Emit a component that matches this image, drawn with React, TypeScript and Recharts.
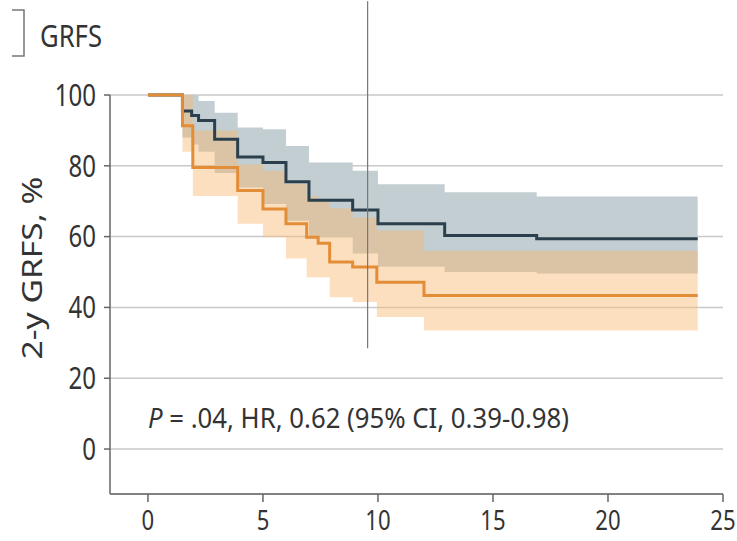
import React from 'react';
import {
  ComposedChart,
  Line,
  Area,
  XAxis,
  YAxis,
  CartesianGrid,
  ReferenceLine,
  Customized,
} from 'recharts';

// ---- Data (months, %) ----
const blueTimes = [0, 1.5, 1.9, 2.2, 2.9, 3.9, 5.0, 6.0, 7.0, 8.9, 10.0, 12.9, 16.9, 23.9];
const blueSurv = [100, 95.5, 94.2, 92.8, 87.5, 82.5, 80.9, 75.5, 70.3, 67.5, 63.6, 60.3, 59.4, 59.4];
const blueUpper = [100, 100, 100, 98.3, 95, 90.8, 90.3, 85.6, 80.9, 78.6, 74.8, 72.5, 71.3, 71.3];
const blueLower = [100, 88, 86, 84, 78, 73.9, 69.2, 64.5, 59.8, 55.2, 51.5, 50, 49.6, 49.6];

const orangeTimes = [0, 1.5, 1.95, 3.9, 5.0, 6.0, 6.9, 7.4, 7.9, 8.9, 9.95, 12.0, 23.9];
const orangeSurv = [100, 91.3, 79.5, 73, 67.8, 63.6, 59.8, 58.1, 52.8, 51.4, 47.1, 43.4, 43.4];
const orangeUpper = [100, 100, 90, 80.4, 78.6, 74.9, 71.5, 70.1, 68, 65.4, 61.7, 56, 56];
const orangeLower = [100, 84, 71.5, 63.6, 59.8, 53.8, 48.5, 48.5, 42.9, 41.5, 37.3, 33.5, 33.5];

const xTicks = [0, 5, 10, 15, 20, 25];
const yTicks = [0, 20, 40, 60, 80, 100];
const xDomain: [number, number] = [-1.65, 25];
const yDomain: [number, number] = [-12.7, 100];

const markerLineTime = 9.55;
const markerLineRange = [28.5, 126.5];

const legendLabel = 'GRFS';
const yLabel = '2-y GRFS, %';
const annotationP = 'P';
const annotationRest = ' = .04, HR, 0.62 (95% CI, 0.39-0.98)';

// step lookup (value in effect at time t)
const stepAt = (times: number[], vals: number[], t: number) => {
  let v = vals[0];
  for (let i = 0; i < times.length; i++) {
    if (times[i] <= t) v = vals[i];
  }
  return v;
};

const allTimes = Array.from(new Set([...blueTimes, ...orangeTimes])).sort((a, b) => a - b);
const data = allTimes.map((t) => ({
  t,
  blue: stepAt(blueTimes, blueSurv, t),
  blueBand: [stepAt(blueTimes, blueLower, t), stepAt(blueTimes, blueUpper, t)],
  orange: stepAt(orangeTimes, orangeSurv, t),
  orangeBand: [stepAt(orangeTimes, orangeLower, t), stepAt(orangeTimes, orangeUpper, t)],
}));

const FONT = '"Noto Sans", "DejaVu Sans", sans-serif';
const TEXT = '#333333';

const XTick = (props: any) => {
  const { x, y, payload } = props;
  return (
    <text
      transform={`translate(${x},${y + 26}) scale(0.82,1)`}
      textAnchor="middle"
      fontFamily={FONT}
      fontSize={27}
      fill={TEXT}
    >
      {payload.value}
    </text>
  );
};

const YTick = (props: any) => {
  const { x, y, payload } = props;
  return (
    <text
      transform={`translate(${x - 6},${y}) scale(0.8,1)`}
      textAnchor="end"
      dy="0.36em"
      fontFamily={FONT}
      fontSize={30}
      fill={TEXT}
    >
      {payload.value}
    </text>
  );
};

const Decor = () => (
  <g>
    <path d="M12 10 H24 V56 H12" fill="none" stroke="#777" strokeWidth={1.5} />
    <text
      x={40}
      y={47}
      fontFamily={FONT}
      fontSize={31}
      fill={TEXT}
      textLength={62}
      lengthAdjust="spacingAndGlyphs"
    >
      {legendLabel}
    </text>
    <text
      transform="translate(42,268) rotate(-90)"
      textAnchor="middle"
      fontFamily={FONT}
      fontSize={27}
      fill={TEXT}
      textLength={183}
      lengthAdjust="spacingAndGlyphs"
    >
      {yLabel}
    </text>
    <text
      x={148}
      y={428}
      fontFamily={FONT}
      fontSize={28}
      fill={TEXT}
      textLength={421}
      lengthAdjust="spacingAndGlyphs"
    >
      <tspan fontStyle="italic">{annotationP}</tspan>
      {annotationRest}
    </text>
  </g>
);

export default function App() {
  return (
    <div style={{ position: 'absolute', left: 0, top: 0, width: 737, height: 541, background: '#fff' }}>
      <ComposedChart
        width={737}
        height={541}
        data={data}
        margin={{ top: 95, right: 14, bottom: 0, left: 50 }}
      >
        <CartesianGrid vertical={false} stroke="#c9c9c9" strokeWidth={1.5} />
        <XAxis
          type="number"
          dataKey="t"
          domain={xDomain}
          ticks={xTicks}
          height={47}
          tickSize={8}
          tick={<XTick />}
          axisLine={{ stroke: '#666', strokeWidth: 1.5 }}
          tickLine={{ stroke: '#666', strokeWidth: 1.5 }}
          allowDataOverflow
        />
        <YAxis
          type="number"
          domain={yDomain}
          ticks={yTicks}
          width={60}
          tickSize={6}
          tick={<YTick />}
          axisLine={{ stroke: '#666', strokeWidth: 1.5 }}
          tickLine={{ stroke: '#666', strokeWidth: 1.5 }}
        />
        <Area
          type="stepAfter"
          dataKey="blueBand"
          stroke="none"
          fill="#c3ced2"
          fillOpacity={1}
          isAnimationActive={false}
        />
        <Area
          type="stepAfter"
          dataKey="orangeBand"
          stroke="none"
          fill="#f8b870"
          fillOpacity={0.45}
          isAnimationActive={false}
        />
        <Line
          type="stepAfter"
          dataKey="blue"
          stroke="#2b404c"
          strokeWidth={3}
          dot={false}
          isAnimationActive={false}
        />
        <Line
          type="stepAfter"
          dataKey="orange"
          stroke="#e38d38"
          strokeWidth={3}
          dot={false}
          isAnimationActive={false}
        />
        <ReferenceLine
          segment={[
            { x: markerLineTime, y: markerLineRange[0] },
            { x: markerLineTime, y: markerLineRange[1] },
          ]}
          stroke="#777"
          strokeWidth={1.2}
          ifOverflow="visible"
        />
        <Customized component={<Decor />} />
      </ComposedChart>
    </div>
  );
}
